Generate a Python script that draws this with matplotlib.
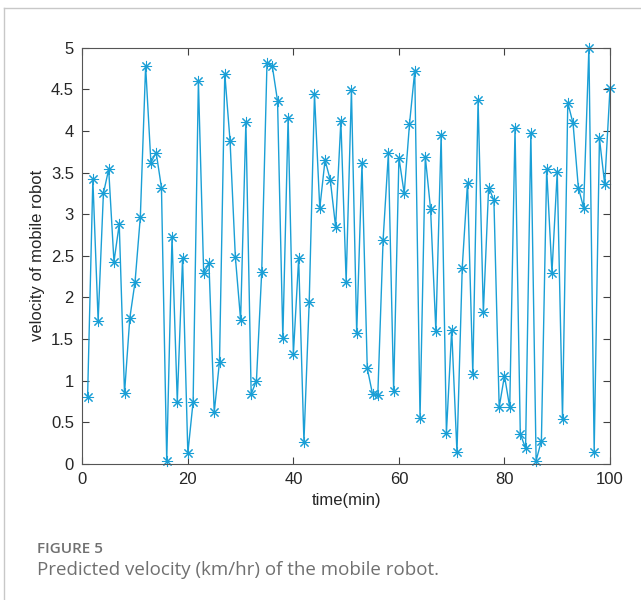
import numpy as np
from matplotlib import pyplot as plt
from matplotlib.lines import Line2D

# predicted velocity, one value per minute
minutes = np.arange(1, 101)
velocity = [
    0.80, 3.42, 1.72, 3.25, 3.54, 2.43, 2.88, 0.85, 1.75, 2.19,
    2.97, 4.78, 3.62, 3.74, 3.32, 0.04, 2.73, 0.75, 2.47, 0.13,
    0.75, 4.60, 2.29, 2.41, 0.62, 1.23, 4.69, 3.88, 2.49, 1.73,
    4.11, 0.84, 1.00, 2.31, 4.82, 4.78, 4.36, 1.51, 4.16, 1.32,
    2.47, 0.27, 1.95, 4.44, 3.07, 3.65, 3.41, 2.85, 4.12, 2.19,
    4.49, 1.57, 3.61, 1.15, 0.84, 0.83, 2.69, 3.73, 0.88, 3.68,
    3.25, 4.08, 4.72, 0.55, 3.69, 3.06, 1.60, 3.95, 0.37, 1.61,
    0.14, 2.36, 3.38, 1.08, 4.37, 1.82, 3.32, 3.17, 0.68, 1.06,
    0.68, 4.03, 0.36, 0.19, 3.98, 0.04, 0.28, 3.54, 2.30, 3.51,
    0.54, 4.34, 4.09, 3.32, 3.08, 5.00, 0.15, 3.91, 3.36, 4.51,
]
x_ticks = [0, 20, 40, 60, 80, 100]
y_ticks = [0, 0.5, 1, 1.5, 2, 2.5, 3, 3.5, 4, 4.5, 5]
y_labels = ['0', '0.5', '1', '1.5', '2', '2.5', '3', '3.5', '4', '4.5', '5']

W, H = 641, 600
fig = plt.figure(figsize=(W / 100, H / 100), dpi=100)

# light page frame (only top and left edges show)
fig.add_artist(Line2D([4 / W, 4 / W], [0, 1 - 8 / H], transform=fig.transFigure,
                      color='#c8c8c8', lw=1))
fig.add_artist(Line2D([4 / W, 1], [1 - 8 / H, 1 - 8 / H], transform=fig.transFigure,
                      color='#c8c8c8', lw=1))

left, right, top, bottom = 82.3, 610, 47.7, 464
ax = fig.add_axes([left / W, 1 - bottom / H, (right - left) / W, (bottom - top) / H])

# matlab style asterisk: 8 spokes
ax.plot(minutes, velocity, color='#1a9fd6', lw=1.0, marker=(8, 2, 0),
        markersize=8, markeredgewidth=0.75, clip_on=False)

ax.set_xlim(0, 100)
ax.set_ylim(0, 5)
ax.set_xticks(x_ticks)
ax.set_yticks(y_ticks)
ax.set_yticklabels(y_labels)

font = 'Liberation Sans'
for lab in ax.get_xticklabels() + ax.get_yticklabels():
    lab.set_fontfamily(font)
    lab.set_fontsize(12)
    lab.set_color('#262626')
ax.tick_params(direction='in', length=5, width=0.8, color='#404040',
               top=True, right=True, pad=6)
for sp in ax.spines.values():
    sp.set_color('#555555')
    sp.set_linewidth(0.8)

ax.set_xlabel('time(min)', fontfamily=font, fontsize=12, color='#262626', labelpad=4)
ax.set_ylabel('velocity of mobile robot', fontfamily=font, fontsize=12,
              color='#262626', labelpad=4)

fig.text(37 / W, 1 - 549 / H, 'FIGURE 5', fontfamily='Open Sans', fontsize=11,
         fontweight='semibold', color='#707070', va='center', ha='left')
fig.text(37 / W, 1 - 570 / H, 'Predicted velocity (km/hr) of the mobile robot.',
         fontfamily='Open Sans', fontsize=13.5, color='#707070', va='center', ha='left')

fig.savefig('out.png', dpi=100)
